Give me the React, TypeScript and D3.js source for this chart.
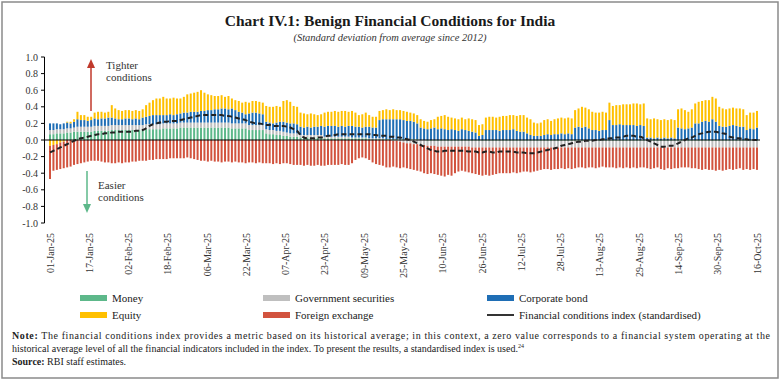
import React from "react";
import * as d3 from "d3";

// ---------- DATA (business days, 01-Jan-25 .. 16-Oct-25) ----------
const seriesKeys = ["money", "gsec", "corp", "equity", "fx"];
const seriesNames = ["Money", "Government securities", "Corporate bond", "Equity", "Foreign exchange"];
const seriesColors = ["#5DB88A", "#BFBFBF", "#1F6EB5", "#FFC000", "#D2533E"];
const lineName = "Financial conditions index (standardised)";

const tickLabels = ["01-Jan-25", "17-Jan-25", "02-Feb-25", "18-Feb-25", "06-Mar-25", "22-Mar-25", "07-Apr-25", "23-Apr-25", "09-May-25", "25-May-25", "10-Jun-25", "26-Jun-25", "12-Jul-25", "28-Jul-25", "13-Aug-25", "29-Aug-25", "14-Sep-25", "30-Sep-25", "16-Oct-25"];
const yTicks = [1.0, 0.8, 0.6, 0.4, 0.2, 0.0, -0.2, -0.4, -0.6, -0.8, -1.0];

const money = [
  0.07, 0.07, 0.08,
  0.08, 0.08, 0.09, 0.09, 0.1,
  0.1, 0.1, 0.1, 0.1, 0.1,
  0.11, 0.11, 0.11, 0.11, 0.11,
  0.12, 0.12, 0.12, 0.12, 0.12,
  0.12, 0.12, 0.12, 0.12, 0.12,
  0.13, 0.13, 0.13, 0.13, 0.13,
  0.14, 0.14, 0.14, 0.14, 0.14,
  0.15, 0.15, 0.15, 0.15, 0.15,
  0.15, 0.15, 0.15, 0.15, 0.15,
  0.15, 0.15, 0.15, 0.15, 0.15,
  0.14, 0.14, 0.14, 0.14, 0.14,
  0.12, 0.12, 0.12, 0.12, 0.12,
  0.08, 0.07, 0.07, 0.06, 0.06,
  0.05, 0.05, 0.04, 0.04, 0.04,
  0.03, 0.03, 0.03, 0.03, 0.03,
  0.03, 0.03, 0.02, 0.02, 0.02,
  0.02, 0.02, 0.02, 0.02, 0.02,
  0.02, 0.02, 0.02, 0.02, 0.02,
  0.01, 0.01, 0.01, 0.01, 0.01,
  0.01, 0.01, 0.01, 0.01, 0.01,
  0.01, 0.01, 0.01, 0.01, 0.01,
  0.0, 0.0, -0.01, -0.01, -0.01,
  -0.01, -0.01, -0.01, -0.01, -0.01,
  -0.01, -0.01, -0.01, -0.01, -0.01,
  -0.01, -0.01, -0.01, -0.01, -0.01,
  -0.01, -0.01, -0.01, -0.01, -0.01,
  -0.01, -0.01, -0.01, -0.01, -0.01,
  -0.01, -0.01, -0.01, -0.01, -0.01,
  -0.01, -0.01, -0.01, -0.01, -0.01,
  -0.01, -0.01, -0.01, -0.01, -0.01,
  -0.01, -0.01, -0.01, -0.01, -0.01,
  -0.01, -0.01, -0.01, -0.01, -0.01,
  -0.01, -0.01, -0.01, -0.01, -0.01,
  -0.01, -0.01, -0.01, -0.01, -0.01,
  -0.01, -0.01, -0.01, -0.01, -0.01,
  -0.01, -0.01, -0.01, -0.01, -0.01,
  -0.01, -0.01, -0.01, -0.01, -0.01,
  -0.01, -0.01, -0.01, -0.01, -0.01,
  -0.01, -0.01, -0.01, -0.01, -0.01,
  -0.01, -0.01, -0.01, -0.01, -0.01,
  -0.01, -0.01, -0.01, -0.01,
];

const gsec = [
  0.05, 0.05, 0.05,
  0.05, 0.05, 0.05, 0.05, 0.05,
  0.06, 0.06, 0.06, 0.06, 0.06,
  0.06, 0.06, 0.06, 0.06, 0.06,
  0.06, 0.06, 0.06, 0.06, 0.06,
  0.06, 0.06, 0.06, 0.06, 0.06,
  0.06, 0.06, 0.06, 0.06, 0.06,
  0.06, 0.06, 0.06, 0.06, 0.06,
  0.06, 0.06, 0.06, 0.06, 0.06,
  0.06, 0.06, 0.06, 0.06, 0.06,
  0.06, 0.06, 0.06, 0.06, 0.06,
  0.06, 0.06, 0.06, 0.06, 0.06,
  0.06, 0.06, 0.06, 0.06, 0.06,
  0.05, 0.05, 0.05, 0.05, 0.05,
  0.05, 0.04, 0.04, 0.04, 0.04,
  0.03, 0.03, 0.03, 0.03, 0.03,
  0.03, 0.03, 0.02, 0.02, 0.02,
  0.02, 0.02, 0.02, 0.02, 0.02,
  0.01, 0.01, 0.01, 0.01, 0.01,
  0.01, 0.01, 0.01, 0.01, 0.01,
  0.0, 0.0, -0.01, -0.01, -0.02,
  -0.03, -0.04, -0.04, -0.05, -0.05,
  -0.06, -0.06, -0.06, -0.06, -0.06,
  -0.07, -0.07, -0.07, -0.07, -0.07,
  -0.07, -0.07, -0.07, -0.07, -0.07,
  -0.08, -0.08, -0.08, -0.08, -0.08,
  -0.08, -0.08, -0.08, -0.08, -0.08,
  -0.08, -0.08, -0.08, -0.08, -0.08,
  -0.08, -0.08, -0.08, -0.08, -0.08,
  -0.08, -0.08, -0.08, -0.08, -0.08,
  -0.08, -0.08, -0.08, -0.08, -0.08,
  -0.08, -0.08, -0.08, -0.08, -0.08,
  -0.08, -0.08, -0.08, -0.08, -0.08,
  -0.08, -0.08, -0.08, -0.08, -0.08,
  -0.08, -0.08, -0.08, -0.08, -0.08,
  -0.08, -0.08, -0.08, -0.08, -0.08,
  -0.08, -0.08, -0.08, -0.08, -0.08,
  -0.08, -0.08, -0.08, -0.08, -0.08,
  -0.08, -0.08, -0.08, -0.08, -0.08,
  -0.08, -0.08, -0.08, -0.08, -0.08,
  -0.08, -0.08, -0.08, -0.08, -0.08,
  -0.08, -0.08, -0.08, -0.08,
];

const corp = [
  0.08, 0.08, 0.07,
  0.06, 0.07, 0.07, 0.06, 0.07,
  0.09, 0.08, 0.08, 0.07, 0.08,
  0.09, 0.08, 0.09, 0.09, 0.1,
  0.09, 0.08, 0.07, 0.07, 0.08,
  0.08, 0.07, 0.08, 0.07, 0.09,
  0.09, 0.1, 0.11, 0.11, 0.11,
  0.1, 0.1, 0.11, 0.1, 0.11,
  0.11, 0.12, 0.12, 0.13, 0.13,
  0.13, 0.14, 0.14, 0.15, 0.15,
  0.16, 0.16, 0.17, 0.17, 0.16,
  0.18, 0.16, 0.14, 0.13, 0.11,
  0.14, 0.15, 0.15, 0.14, 0.13,
  0.09, 0.09, 0.08, 0.1, 0.11,
  0.12, 0.12, 0.12, 0.12, 0.11,
  0.1, 0.09, 0.1, 0.09, 0.1,
  0.1, 0.11, 0.12, 0.13, 0.13,
  0.13, 0.12, 0.13, 0.12, 0.13,
  0.14, 0.13, 0.13, 0.12, 0.13,
  0.14, 0.13, 0.13, 0.22, 0.23,
  0.24, 0.24, 0.24, 0.24, 0.24,
  0.23, 0.22, 0.22, 0.21, 0.19,
  0.15, 0.14, 0.13, 0.14, 0.15,
  0.13, 0.14, 0.13, 0.12, 0.13,
  0.12, 0.11, 0.13, 0.12, 0.11,
  0.1, 0.09, 0.05, 0.06, 0.12,
  0.12, 0.12, 0.12, 0.11, 0.12,
  0.12, 0.12, 0.13, 0.11, 0.1,
  0.1, 0.08, 0.06, 0.05, 0.05,
  0.05, 0.06, 0.07, 0.06, 0.07,
  0.07, 0.08, 0.07, 0.08, 0.07,
  0.15, 0.16, 0.15, 0.16, 0.14,
  0.12, 0.12, 0.11, 0.12, 0.12,
  0.24, 0.18, 0.18, 0.19, 0.18,
  0.18, 0.18, 0.18, 0.17, 0.18,
  0.17, 0.03, 0.03, 0.02, 0.03,
  0.02, 0.03, 0.02, 0.03, 0.02,
  0.15, 0.14, 0.13, 0.14, 0.15,
  0.2, 0.2, 0.22, 0.23, 0.22,
  0.25, 0.22, 0.17, 0.16, 0.16,
  0.17, 0.18, 0.17, 0.16, 0.16,
  0.12, 0.14, 0.13, 0.15,
];

const equity = [
  -0.07, -0.06, -0.05,
  -0.03, -0.02, 0.01, 0.02, 0.03,
  0.09, 0.06, 0.06, 0.05, 0.04,
  0.07, 0.09, 0.08, 0.07, 0.07,
  0.15, 0.12, 0.11, 0.1, 0.1,
  0.1, 0.1, 0.1, 0.1, 0.1,
  0.14, 0.16, 0.18, 0.2, 0.2,
  0.22, 0.2, 0.19, 0.21, 0.19,
  0.18, 0.19, 0.22, 0.22, 0.23,
  0.24, 0.25, 0.22, 0.19, 0.18,
  0.16, 0.16, 0.16, 0.14, 0.16,
  0.12, 0.12, 0.13, 0.12, 0.15,
  0.13, 0.14, 0.14, 0.14, 0.14,
  0.19, 0.19, 0.2, 0.2, 0.18,
  0.25, 0.27, 0.26, 0.21, 0.21,
  0.17, 0.17, 0.15, 0.17, 0.15,
  0.14, 0.14, 0.17, 0.17, 0.17,
  0.18, 0.18, 0.18, 0.19, 0.17,
  0.18, 0.17, 0.14, 0.16, 0.17,
  0.14, 0.13, 0.13, 0.11, 0.11,
  0.12, 0.11, 0.12, 0.11, 0.11,
  0.11, 0.11, 0.1, 0.1, 0.1,
  0.1, 0.09, 0.09, 0.1, 0.1,
  0.15, 0.15, 0.17, 0.16, 0.14,
  0.14, 0.14, 0.14, 0.13, 0.15,
  0.15, 0.15, 0.13, 0.13, 0.15,
  0.16, 0.16, 0.15, 0.17, 0.17,
  0.17, 0.18, 0.17, 0.18, 0.2,
  0.2, 0.19, 0.19, 0.16, 0.15,
  0.16, 0.18, 0.18, 0.17, 0.18,
  0.19, 0.19, 0.19, 0.19, 0.19,
  0.21, 0.22, 0.25, 0.23, 0.23,
  0.22, 0.21, 0.22, 0.22, 0.21,
  0.21, 0.23, 0.24, 0.23, 0.25,
  0.25, 0.25, 0.26, 0.27, 0.25,
  0.27, 0.23, 0.22, 0.24, 0.22,
  0.22, 0.22, 0.22, 0.22, 0.22,
  0.22, 0.24, 0.23, 0.2, 0.22,
  0.24, 0.26, 0.25, 0.25, 0.26,
  0.27, 0.28, 0.23, 0.22, 0.21,
  0.21, 0.21, 0.21, 0.22, 0.21,
  0.18, 0.19, 0.2, 0.2,
];

const fx = [
  -0.4, -0.31, -0.31,
  -0.32, -0.32, -0.33, -0.32, -0.3,
  -0.29, -0.28, -0.27, -0.26, -0.25,
  -0.25, -0.25, -0.26, -0.27, -0.27,
  -0.28, -0.28, -0.27, -0.28, -0.27,
  -0.27, -0.26, -0.26, -0.25, -0.25,
  -0.25, -0.24, -0.24, -0.23, -0.23,
  -0.23, -0.23, -0.22, -0.22, -0.22,
  -0.22, -0.22, -0.21, -0.22, -0.23,
  -0.24, -0.25, -0.25, -0.26, -0.25,
  -0.26, -0.26, -0.27, -0.26, -0.26,
  -0.27, -0.26, -0.27, -0.27, -0.28,
  -0.27, -0.27, -0.28, -0.27, -0.28,
  -0.28, -0.28, -0.29, -0.28, -0.29,
  -0.28, -0.28, -0.29, -0.3, -0.3,
  -0.3, -0.31, -0.3, -0.31, -0.31,
  -0.3, -0.31, -0.31, -0.3, -0.3,
  -0.3, -0.3, -0.29, -0.3, -0.3,
  -0.28, -0.24, -0.22, -0.21, -0.22,
  -0.24, -0.27, -0.29, -0.3, -0.31,
  -0.33, -0.33, -0.31, -0.32, -0.32,
  -0.3, -0.3, -0.31, -0.31, -0.32,
  -0.32, -0.34, -0.34, -0.33, -0.34,
  -0.34, -0.35, -0.36, -0.34, -0.35,
  -0.32, -0.3, -0.29, -0.3, -0.31,
  -0.31, -0.32, -0.33, -0.34, -0.33,
  -0.34, -0.33, -0.32, -0.31, -0.31,
  -0.31, -0.31, -0.3, -0.31, -0.3,
  -0.29, -0.29, -0.3, -0.29, -0.28,
  -0.27, -0.26, -0.26, -0.27, -0.26,
  -0.26, -0.25, -0.26, -0.25, -0.26,
  -0.25, -0.24, -0.24, -0.25, -0.24,
  -0.24, -0.25, -0.24, -0.23, -0.24,
  -0.24, -0.24, -0.25, -0.24, -0.25,
  -0.24, -0.25, -0.24, -0.25, -0.24,
  -0.24, -0.25, -0.26, -0.25, -0.24,
  -0.26, -0.27, -0.25, -0.26, -0.25,
  -0.25, -0.24, -0.24, -0.24, -0.25,
  -0.25, -0.26, -0.27, -0.26, -0.27,
  -0.27, -0.28, -0.27, -0.28, -0.27,
  -0.26, -0.27, -0.26, -0.25, -0.27,
  -0.26, -0.27, -0.26, -0.27,
];

const fci = [
  -0.15, -0.13, -0.11,
  -0.09, -0.07, -0.05, -0.03, -0.01,
  0.01, 0.02, 0.03, 0.04, 0.05,
  0.06, 0.07, 0.07, 0.08, 0.08,
  0.09, 0.09, 0.1, 0.1, 0.1,
  0.1, 0.1, 0.11, 0.11, 0.12,
  0.14, 0.17, 0.19, 0.2, 0.21,
  0.22, 0.22, 0.23, 0.23, 0.23,
  0.24, 0.25, 0.26, 0.27, 0.28,
  0.29, 0.3, 0.3, 0.3, 0.3,
  0.3, 0.3, 0.3, 0.29, 0.29,
  0.28, 0.27, 0.26, 0.25, 0.24,
  0.22, 0.21, 0.2, 0.2, 0.19,
  0.18, 0.18, 0.17, 0.17, 0.17,
  0.17, 0.16, 0.15, 0.13, 0.11,
  0.06, 0.03, 0.02, 0.02, 0.02,
  0.03, 0.03, 0.04, 0.05, 0.05,
  0.06, 0.07, 0.07, 0.07, 0.07,
  0.07, 0.07, 0.07, 0.07, 0.07,
  0.07, 0.06, 0.06, 0.05, 0.05,
  0.05, 0.04, 0.04, 0.03, 0.03,
  0.02, 0.01, 0.0, -0.02, -0.04,
  -0.06, -0.08, -0.1, -0.12, -0.13,
  -0.14, -0.14, -0.13, -0.13, -0.13,
  -0.13, -0.13, -0.13, -0.13, -0.14,
  -0.14, -0.14, -0.15, -0.15, -0.14,
  -0.14, -0.15, -0.15, -0.14, -0.14,
  -0.14, -0.14, -0.14, -0.15, -0.15,
  -0.15, -0.16, -0.16, -0.16, -0.15,
  -0.14, -0.13, -0.12, -0.11, -0.1,
  -0.09, -0.07, -0.06, -0.05, -0.04,
  -0.03, -0.02, -0.02, -0.01, -0.01,
  -0.01, 0.0, 0.0, 0.01, 0.01,
  0.02, 0.02, 0.03, 0.03, 0.04,
  0.05, 0.05, 0.05, 0.04, 0.04,
  0.02, 0.0, -0.02, -0.04, -0.06,
  -0.08, -0.08, -0.07, -0.07, -0.06,
  -0.04, -0.02, 0.0, 0.02, 0.03,
  0.05, 0.07, 0.08, 0.09, 0.1,
  0.1, 0.1, 0.09, 0.08, 0.07,
  0.04, 0.03, 0.02, 0.02, 0.01,
  0.01, 0.0, 0.0, 0.0,
];

const seriesValues: Record<string, number[]> = { money, gsec, corp, equity, fx };

const FONT = "'Liberation Serif', 'Times New Roman', serif";

export default function App() {
  const W = 781;
  const H = 382;
  const parse = d3.timeParse("%d-%b-%y");
  const start = new Date(2025, 0, 1);
  const end = new Date(2025, 9, 16);
  const days = d3.timeDay
    .range(start, d3.timeDay.offset(end, 1))
    .filter((d) => d.getDay() !== 0 && d.getDay() !== 6);
  const n = Math.min(days.length, money.length);
  const rows = d3.range(n).map((i) => {
    const r: any = { idx: i, date: days[i], fci: fci[i] };
    seriesKeys.forEach((k) => (r[k] = seriesValues[k][i]));
    return r;
  });

  // calendar scale for tick labels, evenly spaced trading-day scale for the marks
  const x = d3.scaleTime().domain([start, end]).range([50, 757]);
  const xi = d3.scaleLinear().domain([0, n - 1]).range([x(start), x(end)]);
  const y = d3.scaleLinear().domain([-1, 1]).range([223, 57]);

  const stacked = d3.stack<any>().keys(seriesKeys).offset(d3.stackOffsetDiverging)(rows);
  const barW = 2;

  const line = d3
    .line<any>()
    .x((d) => xi(d.idx))
    .y((d) => y(d.fci))
    .curve(d3.curveMonotoneX);

  const legendItems = [
    { name: seriesNames[0], color: seriesColors[0], col: 0, row: 0 },
    { name: seriesNames[1], color: seriesColors[1], col: 1, row: 0 },
    { name: seriesNames[2], color: seriesColors[2], col: 2, row: 0 },
    { name: seriesNames[3], color: seriesColors[3], col: 0, row: 1 },
    { name: seriesNames[4], color: seriesColors[4], col: 1, row: 1 },
  ];
  const colX = [80, 263, 487];
  const rowY = [298, 315];

  return (
    <div style={{ position: "absolute", left: 0, top: 0 }}>
      <svg width={W} height={H} style={{ display: "block", background: "#fff" }} fontFamily={FONT}>
        <rect x={2} y={2} width={776} height={376} fill="#fff" stroke="#8a8a8a" strokeWidth={1.5} />
        <text x={390} y={26} textAnchor="middle" fontSize={15.5} fontWeight="bold" fill="#1a1a1a">
          Chart IV.1: Benign Financial Conditions for India
        </text>
        <text x={390} y={41} textAnchor="middle" fontSize={10.5} fontStyle="italic" fill="#333">
          (Standard deviation from average since 2012)
        </text>

        {/* bars */}
        {stacked.map((s, si) => (
          <g key={seriesKeys[si]} fill={seriesColors[si]}>
            {s.map((d, i) => {
              const y0 = y(d[0]);
              const y1 = y(d[1]);
              const h = Math.abs(y0 - y1);
              if (h < 0.01) return null;
              return (
                <rect
                  key={i}
                  x={xi(i) - barW / 2}
                  y={Math.min(y0, y1)}
                  width={barW}
                  height={h}
                />
              );
            })}
          </g>
        ))}

        {/* zero line */}
        <line x1={44.5} x2={760} y1={y(0)} y2={y(0)} stroke="#000" strokeWidth={1.2} />

        {/* FCI line */}
        <path d={line(rows) || ""} fill="none" stroke="#222" strokeWidth={2} strokeDasharray="5,3" />

        {/* y axis */}
        <line x1={44.5} x2={44.5} y1={y(1)} y2={y(-1)} stroke="#000" strokeWidth={1} />
        {yTicks.map((t) => (
          <g key={t}>
            <line x1={41} x2={44.5} y1={y(t)} y2={y(t)} stroke="#000" strokeWidth={1} />
            <text x={38} y={y(t) + 3.5} textAnchor="end" fontSize={10} fill="#333">
              {t.toFixed(1)}
            </text>
          </g>
        ))}

        {/* x labels */}
        {tickLabels.map((lab) => {
          const d = parse(lab) as Date;
          const xx = x(d);
          return (
            <text
              key={lab}
              transform={`translate(${xx + 3.5},233) rotate(-90)`}
              textAnchor="end"
              fontSize={10}
              fill="#333"
            >
              {lab}
            </text>
          );
        })}

        {/* annotations */}
        <line x1={91} x2={91} y1={111} y2={66} stroke="#C0392B" strokeWidth={1.5} />
        <path d="M87,68 L91,59 L95,68 Z" fill="#C0392B" />
        <text x={106} y={69} fontSize={11} fill="#333">Tighter</text>
        <text x={106} y={81} fontSize={11} fill="#333">conditions</text>

        <line x1={87} x2={87} y1={171} y2={206} stroke="#5DB88A" strokeWidth={1.5} />
        <path d="M83,204 L87,213 L91,204 Z" fill="#5DB88A" />
        <text x={98} y={189} fontSize={11} fill="#333">Easier</text>
        <text x={98} y={201} fontSize={11} fill="#333">conditions</text>

        {/* legend */}
        {legendItems.map((it) => (
          <g key={it.name}>
            <rect x={colX[it.col]} y={rowY[it.row] - 3} width={27} height={6} fill={it.color} />
            <text x={colX[it.col] + 32} y={rowY[it.row] + 3.5} fontSize={11} fill="#222">
              {it.name}
            </text>
          </g>
        ))}
        <line x1={colX[2]} x2={colX[2] + 27} y1={rowY[1]} y2={rowY[1]} stroke="#000" strokeWidth={1.6} />
        <text x={colX[2] + 32} y={rowY[1] + 3.5} fontSize={11} fill="#222">
          {lineName}
        </text>

        {/* notes */}
        <text x={12} y={339} fontSize={10} fill="#222" textLength={758} lengthAdjust="spacing">
          <tspan fontWeight="bold">Note:</tspan> The financial conditions index provides a metric based on its historical average; in this context, a zero value corresponds to a financial system operating at the
        </text>
        <text x={12} y={352} fontSize={10} fill="#222">
          historical average level of all the financial indicators included in the index. To present the results, a standardised index is used.
          <tspan fontSize={6} dy={-4}>24</tspan>
        </text>
        <text x={12} y={365} fontSize={10} fill="#222">
          <tspan fontWeight="bold">Source:</tspan> RBI staff estimates.
        </text>
      </svg>
    </div>
  );
}
